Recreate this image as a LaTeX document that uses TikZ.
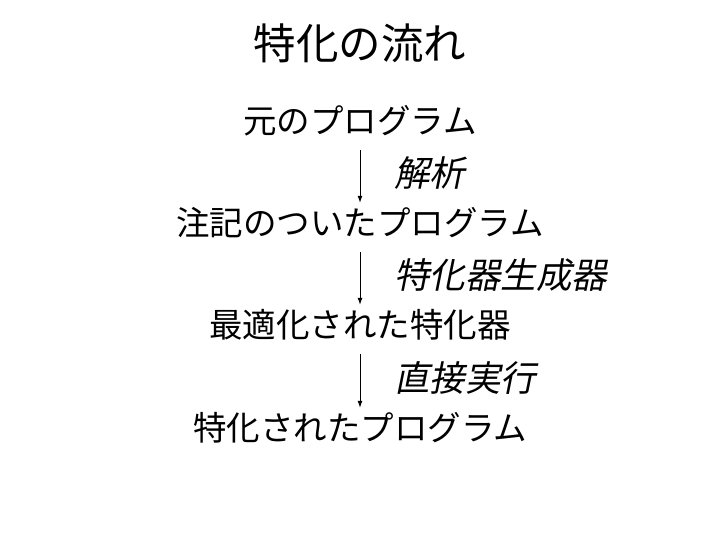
\documentclass[tikz,border=0pt]{standalone}
\usepackage{fontspec}
\setmainfont{Noto Sans CJK JP}
\newfontfamily\slantjp[FakeSlant=0.2]{Noto Sans CJK JP}
\usetikzlibrary{arrows.meta}

\begin{document}
\begin{tikzpicture}[x=1pt,y=1pt,
    stage/.style={inner sep=0pt,text height=27.7pt,text depth=2.3pt,font=\fontsize{33.5}{36}\selectfont},
    how/.style={right=34pt,yshift=-2pt,inner sep=0pt,text height=27.7pt,text depth=2.3pt,font=\slantjp\fontsize{35.5}{38}\selectfont},
    flow/.style={line width=0.9pt,-{Latex[length=7pt,width=5pt]},shorten <=14pt,shorten >=5pt}]
    \useasboundingbox (0,0) rectangle (720,540);
    \node[font=\fontsize{42.5}{46}\selectfont] (title) at (360,497) {特化の流れ};
    \node[stage] (orig)  at (360,419) {元のプログラム};
    \node[stage] (annot) at (360,317) {注記のついたプログラム};
    \node[stage] (opt)   at (360,215) {最適化された特化器};
    \node[stage] (spec)  at (360,112) {特化されたプログラム};
    \draw[flow] (orig)  -- node[how] (ana) {解析} (annot);
    \draw[flow] (annot) -- node[how] (gen) {特化器生成器} (opt);
    \draw[flow] (opt)   -- node[how] (run) {直接実行} (spec);
  \end{tikzpicture}
\end{document}
